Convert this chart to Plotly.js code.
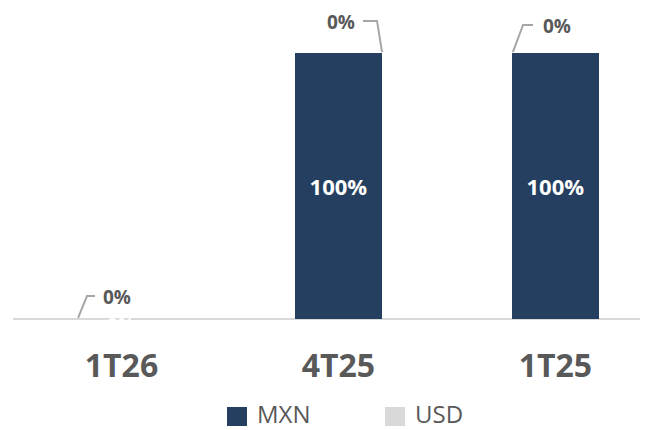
<!DOCTYPE html>
<html>
<head>
<meta charset="utf-8">
<script src="https://cdn.plot.ly/plotly-3.0.1.min.js"></script>
<style>html,body{margin:0;padding:0;background:#fff;}#chart{width:649px;height:430px;}</style>
</head>
<body>
<div id="chart"></div>
<script>
const categories = ["1T26", "4T25", "1T25"];
const seriesNames = ["MXN", "USD"];
const mxnValues = [0, 100, 100];
const usdValues = [0, 0, 0];
const mxnLabels = ["0%", "100%", "100%"];
const usdLabels = ["0%", "0%", "0%"];

const navy = "#253f60";
const grayBar = "#d9d9d9";
const textGray = "#595959";
const fontFam = "'Open Sans', 'Noto Sans', sans-serif";
const colors = [navy, grayBar];

const traces = [
  {
    type: "bar", name: seriesNames[0], x: categories, y: mxnValues,
    marker: {color: colors[0]},
    text: mxnLabels.map((t, i) => mxnValues[i] > 0 ? "<b>" + t + "</b>" : ""),
    textposition: "inside", insidetextanchor: "middle",
    textfont: {color: "#ffffff", size: 22, family: fontFam},
    hoverinfo: "none"
  },
  {
    type: "bar", name: seriesNames[1], x: categories, y: usdValues,
    marker: {color: colors[1]},
    hoverinfo: "none"
  }
];

// leader-line label placements for the USD labels (category / percent units)
const leaders = [
  {dx: -0.021, ly: 8.3, lineY: 8.65, lx0: -0.122, lx1: -0.159, lx2: -0.2},
  {dx: 0.012, ly: 111.7, lineY: 112.1, lx0: 0.113, lx1: 0.178, lx2: 0.201},
  {dx: 0.007, ly: 110.2, lineY: 110.6, lx0: -0.103, lx1: -0.149, lx2: -0.196}
];

const annotations = [];
const shapes = [];
categories.forEach((c, i) => {
  const L = leaders[i];
  const top = mxnValues[i] + usdValues[i];
  annotations.push({
    x: i + L.dx, y: L.ly, xref: "x", yref: "y", text: "<b>" + usdLabels[i] + "</b>",
    showarrow: false, font: {size: 19, color: textGray, family: fontFam}
  });
  shapes.push({
    type: "path", xref: "x", yref: "y",
    path: "M" + (i + L.lx0) + "," + L.lineY + " L" + (i + L.lx1) + "," + L.lineY + " L" + (i + L.lx2) + "," + (top + 0.4),
    line: {color: "#a6a6a6", width: 2}
  });
  if (mxnValues[i] === 0) {
    annotations.push({
      x: i, y: 0, xref: "x", yref: "y", text: "<b>" + mxnLabels[i] + "</b>",
      showarrow: false, font: {size: 19, color: "#ffffff", family: fontFam}, yshift: -6
    });
  }
});

// custom legend
const legendSquares = [[0.3413, 0.3732], [0.5933, 0.6252]];
const legendTextX = [0.3876, 0.6395];
seriesNames.forEach((n, k) => {
  shapes.push({
    type: "rect", xref: "paper", yref: "paper",
    x0: legendSquares[k][0], x1: legendSquares[k][1], y0: -0.3354, y1: -0.2758,
    fillcolor: colors[k], line: {width: 0}
  });
  annotations.push({
    x: legendTextX[k], y: -0.2947, xref: "paper", yref: "paper", xanchor: "left", yanchor: "middle",
    text: n, showarrow: false, font: {size: 24, color: textGray, family: fontFam}, borderpad: 0
  });
});

const layout = {
  width: 649, height: 430,
  margin: {l: 13, r: 9, t: 0, b: 111},
  paper_bgcolor: "#ffffff", plot_bgcolor: "#ffffff",
  barmode: "stack", bargap: 0.6,
  showlegend: false,
  xaxis: {
    type: "category", range: [-0.5, 2.39], showgrid: false, zeroline: false,
    showline: false, ticks: "", fixedrange: true, ticklabelstandoff: 25,
    tickfont: {size: 32, color: textGray, family: fontFam, weight: 700}
  },
  yaxis: {
    range: [0, 120], showgrid: false, zeroline: true, zerolinecolor: "#d9d9d9", zerolinewidth: 2,
    showticklabels: false, showline: false, ticks: ""
  },
  annotations: annotations,
  shapes: shapes
};

Plotly.newPlot("chart", traces, layout, {displayModeBar: false, staticPlot: true});
</script>
</body>
</html>
